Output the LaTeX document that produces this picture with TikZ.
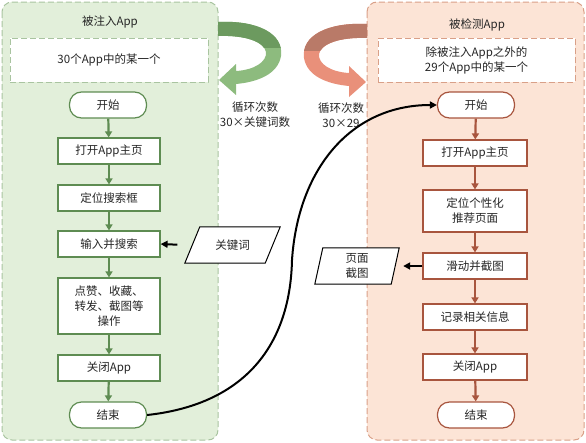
\documentclass[tikz,border=0pt]{standalone}
\usepackage{fontspec}
\setmainfont{Noto Sans CJK SC}
\usetikzlibrary{arrows.meta,calc}
\definecolor{panelGfill}{HTML}{E2EFDA}
\definecolor{panelGline}{HTML}{A9C4A0}
\definecolor{boxG}{HTML}{5E8C52}
\definecolor{loopGlight}{HTML}{8DBB7E}
\definecolor{loopGdark}{HTML}{6C9A5F}
\definecolor{panelRfill}{HTML}{FCE4D6}
\definecolor{panelRline}{HTML}{D9A088}
\definecolor{boxR}{HTML}{A8553E}
\definecolor{loopRlight}{HTML}{E9907A}
\definecolor{loopRdark}{HTML}{B97A68}
\tikzset{
  every node/.style={font=\fontsize{11.5}{15}\selectfont, text=black!85},
  longdash/.style={dash pattern=on 6pt off 3pt},
  panelG/.style={draw=panelGline, fill=panelGfill, longdash, line width=1pt, rounded corners=10pt},
  panelR/.style={draw=panelRline, fill=panelRfill, longdash, line width=1pt, rounded corners=10pt},
  noteG/.style={draw=panelGline, fill=white, longdash, line width=1pt, minimum width=198pt, minimum height=44pt, align=center},
  noteR/.style={draw=panelRline, fill=white, longdash, line width=1pt, minimum width=197pt, minimum height=44pt, align=center},
  procG/.style={draw=boxG, fill=white, line width=1.2pt, minimum width=102pt, minimum height=26pt, inner sep=2pt, align=center},
  procR/.style={draw=boxR, fill=white, line width=1.2pt, minimum width=104pt, minimum height=26pt, inner sep=2pt, align=center},
  termG/.style={procG, minimum width=77pt, rounded corners=12pt},
  termR/.style={procR, minimum width=77pt, rounded corners=12pt},
  iobox/.style={minimum height=36pt, align=center, inner sep=1pt},
  ioline/.style={draw=black, fill=white, line width=1pt},
  flowG/.style={draw=boxG, line width=2.2pt, -{Triangle[length=6pt,width=7pt]}},
  flowR/.style={draw=boxR, line width=2.2pt, -{Triangle[length=6pt,width=7pt]}},
  flowK/.style={draw=black, line width=2pt, -{Triangle[length=7pt,width=7pt]}},
}
\begin{document}
\begin{tikzpicture}[x=1pt,y=-1pt]
  \useasboundingbox (0,0) rectangle (586,442);
  % the two app panels
  \draw[panelG] (2,2) rectangle (218,440);
  \draw[panelR] (367,2) rectangle (584,440);
  \node (tG) at (110,22) {被注入App};
  \node (tR) at (477,25) {被检测App};
  \node[noteG] (nG) at (109,60) {30个App中的某一个};
  \node[noteR] (nR) at (476.5,60) {除被注入App之外的\\29个App中的某一个};

  % injected app steps
  \node[termG] (L0) at (108,105) {开始};
  \node[procG] (L1) at (109,151) {打开App主页};
  \node[procG] (L2) at (109,198) {定位搜索框};
  \node[procG] (L3) at (109,244) {输入并搜索};
  \node[procG, minimum height=56pt] (L4) at (109,306) {点赞、收藏、\\转发、截图等\\操作};
  \node[procG] (L5) at (109,368) {关闭App};
  \node[termG] (L6) at (108,415) {结束};

  % tested app steps
  \node[termR] (R0) at (476,105) {开始};
  \node[procR] (R1) at (475,153) {打开App主页};
  \node[procR, minimum height=42pt] (R2) at (475,211) {定位个性化\\推荐页面};
  \node[procR] (R3) at (475,266) {滑动并截图};
  \node[procR] (R4) at (475,317) {记录相关信息};
  \node[procR] (R5) at (475,367) {关闭App};
  \node[termR] (R6) at (476,415) {结束};

  % data in and out (slanted boxes)
  \node[iobox, minimum width=95pt] (kw) at (232.5,245) {};
  \draw[ioline] ($(kw.north west)+(15,0)$) -- (kw.north east)
    -- ($(kw.south east)+(-15,0)$) -- (kw.south west) -- cycle;
  \node[iobox] at (kw) {关键词};
  \node[iobox, minimum width=84pt] (shot) at (357,266) {};
  \draw[ioline] ($(shot.north west)+(8,0)$) -- (shot.north east)
    -- ($(shot.south east)+(-8,0)$) -- (shot.south west) -- cycle;
  \node[iobox] at (shot) {页面\\截图};

  \begin{scope}
    \draw[flowG] (L0) -- (L1);
    \draw[flowG] (L1) -- (L2);
    \draw[flowG] (L2) -- (L3);
    \draw[flowG] (L3) -- (L4);
    \draw[flowG] (L4) -- (L5);
    \draw[flowG] (L5) -- (L6);
    \draw[flowR] (R0) -- (R1);
    \draw[flowR] (R1) -- (R2);
    \draw[flowR] (R2) -- (R3);
    \draw[flowR] (R3) -- (R4);
    \draw[flowR] (R4) -- (R5);
    \draw[flowR] (R5) -- (R6);
    \draw[flowK, shorten <=7.5pt] (kw.west) -- (L3.east);
    \draw[flowK, shorten >=4pt] (R3.west) -- (shot.east);
    \draw[flowK] (L6.east) .. controls (240,405) and (290,350) .. (292,260)
      .. controls (298,170) and (350,105) .. (R0.west);
  \end{scope}

  % loop arrows
  \fill[loopGlight] (218,22) .. controls (258,20) and (284,34) .. (281,56)
    .. controls (278,74) and (258,82) .. (236,84) -- (236,95) -- (219,80)
    -- (236,64) -- (236,71) .. controls (254,70) and (267,62) .. (266,52)
    .. controls (264,42) and (246,35) .. (218,36) -- cycle;
  \begin{scope}
    \clip (210,0) rectangle (290,47);
    \fill[loopGdark] (218,22) .. controls (258,20) and (284,34) .. (281,56)
      -- (266,52) .. controls (264,42) and (246,35) .. (218,36) -- cycle;
  \end{scope}
  \fill[loopRlight] (367,24) .. controls (327,22) and (301,36) .. (304,58)
    .. controls (307,76) and (327,84) .. (349,86) -- (349,97) -- (366,82)
    -- (349,66) -- (349,73) .. controls (331,72) and (318,64) .. (319,54)
    .. controls (321,44) and (339,37) .. (367,38) -- cycle;
  \begin{scope}
    \clip (295,0) rectangle (375,50);
    \fill[loopRdark] (367,24) .. controls (327,22) and (301,36) .. (304,58)
      -- (319,54) .. controls (321,44) and (339,37) .. (367,38) -- cycle;
  \end{scope}
  \node[align=center] (cG) at (255,115) {循环次数\\30×关键词数};
  \node[align=center] (cR) at (341,115) {循环次数\\30×29};
\end{tikzpicture}
\end{document}
